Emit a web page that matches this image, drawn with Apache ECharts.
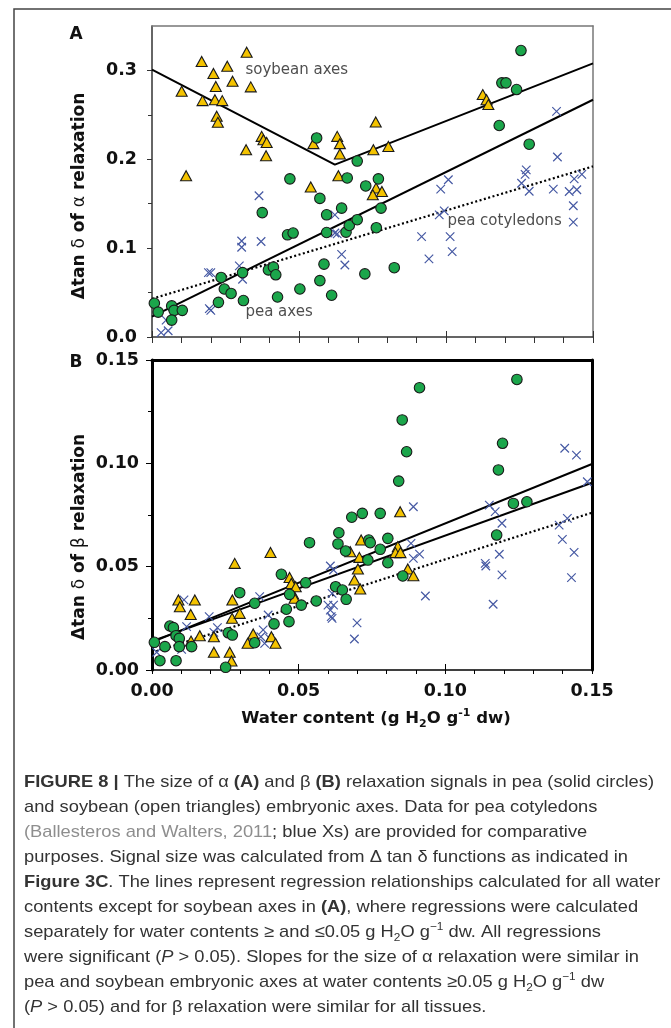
<!DOCTYPE html>
<html><head><meta charset="utf-8">
<script src="https://cdn.jsdelivr.net/npm/echarts@6/dist/echarts.min.js"></script>
<style>html,body{margin:0;padding:0;background:#fff;}#c{width:671px;height:1028px;}</style>
</head><body><div id="c"></div>
<script>
// ---------- tick values ----------
const xTicks = [0, 0.05, 0.10, 0.15];
const aYTicks = [0, 0.1, 0.2, 0.3];
const aYMinor = [0.05, 0.15, 0.25];
const bYTicks = [0, 0.05, 0.10, 0.15];

// ---------- Panel A (alpha relaxation) ----------
const aPea = [[0.0008,0.038],[0.0021,0.028],[0.0067,0.035],[0.0075,0.030],[0.0103,0.030],[0.0067,0.019],
 [0.0235,0.067],[0.0246,0.054],[0.0269,0.049],[0.0226,0.039],[0.0308,0.0725],[0.0311,0.041],
 [0.0396,0.0755],[0.0413,0.0786],[0.0421,0.070],[0.0427,0.045],[0.0503,0.054],
 [0.0571,0.0635],[0.0585,0.082],[0.0611,0.047],
 [0.0375,0.140],[0.0461,0.115],[0.048,0.117],[0.0469,0.178],[0.0571,0.156],
 [0.0594,0.1375],[0.0594,0.1176],[0.0645,0.145],[0.066,0.118],[0.0671,0.1255],[0.0698,0.132],
 [0.056,0.224],[0.0698,0.198],[0.0664,0.179],[0.0727,0.170],[0.077,0.178],
 [0.0763,0.123],[0.0779,0.145],[0.0724,0.071],[0.0824,0.078],
 [0.1255,0.3224],[0.119,0.286],[0.1204,0.286],[0.124,0.2785],[0.1181,0.238],[0.1283,0.217]];
const aSoy = [[0.0101,0.2766],[0.0169,0.310],[0.0209,0.2965],[0.0217,0.282],[0.0256,0.3047],[0.0274,0.2878],
 [0.0322,0.3205],[0.0336,0.2815],[0.0172,0.266],[0.0214,0.267],[0.0239,0.266],[0.0220,0.2484],[0.0224,0.2416],
 [0.0373,0.2258],[0.0379,0.222],[0.039,0.219],[0.032,0.2108],[0.0388,0.204],[0.0116,0.1815],[0.0549,0.2176],
 [0.063,0.2258],[0.0639,0.2176],[0.0639,0.206],[0.0634,0.1815],[0.054,0.1688],
 [0.1125,0.2728],[0.1138,0.267],[0.1144,0.2616],[0.0761,0.242],[0.0753,0.2108],[0.0804,0.2145],
 [0.0762,0.1676],[0.0751,0.160],[0.0782,0.1638]];
const aCot = [[0.0031,0.005],[0.0055,0.007],[0.0048,0.019],
 [0.0195,0.032],[0.020,0.030],[0.0192,0.0725],[0.020,0.0725],[0.0297,0.080],[0.0308,0.065],[0.0305,0.108],
 [0.0305,0.101],[0.0371,0.1075],[0.0364,0.159],
 [0.0622,0.1375],[0.0622,0.117],[0.063,0.116],[0.0645,0.093],[0.0656,0.081],
 [0.0917,0.113],[0.0942,0.088],[0.1014,0.113],[0.1021,0.096],[0.0977,0.1375],[0.0994,0.142],[0.0982,0.1665],[0.1008,0.177],
 [0.1273,0.188],[0.1269,0.183],[0.1257,0.173],[0.1283,0.164],
 [0.1365,0.1665],[0.1376,0.254],[0.1379,0.2026],[0.1462,0.183],[0.1436,0.178],[0.1419,0.1638],[0.1445,0.1657],
 [0.1433,0.1477],[0.1433,0.1293]];
const aPeaFit = [[0,0.023],[0.15,0.267]];
const aSoyFit = [[0,0.301],[0.0622,0.194],[0.15,0.308]];
const aCotFit = [[0,0.043],[0.15,0.192]];
const aNotes = [[0.0316,0.300,'soybean axes'],[0.0316,0.0285,'pea axes'],[0.1003,0.130,'pea cotyledons']];

// ---------- Panel B (beta relaxation) ----------
const bPea = [[0.0008,0.0134],[0.0027,0.0045],[0.0044,0.0113],[0.0061,0.0213],[0.0073,0.0205],[0.0082,0.0166],
 [0.0082,0.0045],[0.0093,0.0153],[0.0093,0.0113],[0.0135,0.0113],[0.0251,0.0013],[0.026,0.018],[0.0274,0.0169],
 [0.0299,0.0374],[0.035,0.0323],[0.035,0.0132],[0.0416,0.0223],[0.0441,0.0463],[0.0458,0.0294],[0.0467,0.0234],
 [0.0469,0.0366],[0.0509,0.0314],[0.0524,0.0422],[0.0537,0.0616],[0.056,0.0334],[0.0626,0.0403],[0.0649,0.0387],
 [0.0662,0.0342],[0.0637,0.0664],[0.0634,0.061],[0.066,0.0576],[0.0681,0.0739],[0.0717,0.0758],[0.0778,0.0758],
 [0.0739,0.0629],[0.0744,0.0616],[0.0804,0.0637],[0.0778,0.0584],[0.0736,0.0532],[0.0804,0.0519],[0.0855,0.0455],
 [0.1175,0.0653],[0.1232,0.0806],[0.1278,0.0814],[0.0912,0.1366],[0.1244,0.1406],[0.0853,0.121],[0.1195,0.1097],
 [0.0868,0.1056],[0.1181,0.0968],[0.0841,0.0914]];
const bSoy = [[0.009,0.0339],[0.0095,0.0306],[0.0132,0.0269],[0.0146,0.0339],[0.0133,0.014],[0.0163,0.0166],
 [0.0211,0.0161],[0.0211,0.0086],[0.0282,0.0516],[0.0274,0.0339],[0.0273,0.025],[0.0299,0.0274],[0.0265,0.0086],
 [0.0271,0.0044],[0.0345,0.0174],[0.0326,0.0129],[0.0404,0.0569],[0.0407,0.0161],[0.0421,0.0129],[0.0469,0.0448],
 [0.0475,0.0419],[0.0481,0.0368],[0.0486,0.0347],[0.049,0.0403],[0.0676,0.0572],[0.069,0.0435],[0.0846,0.0766],
 [0.0713,0.0629],[0.0707,0.0545],[0.0702,0.0489],[0.071,0.0392],[0.0838,0.0597],[0.083,0.0568],[0.0847,0.0568],
 [0.0872,0.0489],[0.0891,0.0456]];
const bCot = [[0.0016,0.0086],[0.0095,0.0132],[0.0101,0.010],[0.0109,0.0339],[0.0118,0.021],[0.0195,0.0258],
 [0.0223,0.0205],[0.0211,0.0182],[0.0367,0.0355],[0.0396,0.0266],[0.0379,0.0194],[0.0371,0.0161],[0.0384,0.0129],
 [0.0401,0.0153],[0.0608,0.0503],[0.0619,0.0484],[0.06,0.0314],[0.0608,0.029],[0.0611,0.0258],[0.0614,0.025],
 [0.0619,0.0314],[0.0614,0.0371],[0.0699,0.0228],[0.069,0.015],[0.0891,0.079],[0.0883,0.0613],[0.0891,0.054],
 [0.0912,0.0561],[0.0932,0.0358],[0.115,0.0798],[0.117,0.0766],[0.1193,0.071],[0.1184,0.056],[0.1136,0.0516],
 [0.1138,0.0503],[0.1193,0.046],[0.1163,0.0318],[0.1388,0.0701],[0.1416,0.0734],[0.1399,0.0632],[0.1439,0.0569],
 [0.143,0.0447],[0.1407,0.1073],[0.1447,0.104],[0.1484,0.0911]];
const bFitUpper = [[0,0.0135],[0.15,0.0997]];
const bFitLower = [[0,0.0140],[0.15,0.0906]];
const bCotFit = [[0,0.0084],[0.15,0.0761]];

// ---------- caption ----------
const captionLines = [
 '{b|FIGURE 8 |}{n| The size of α }{b|(A)}{n| and β }{b|(B)}{n| relaxation signals in pea (solid circles)}',
 '{n|and soybean (open triangles) embryonic axes. Data for pea cotyledons}',
 '{g|(Ballesteros and Walters, 2011}{n|; blue Xs) are provided for comparative}',
 '{n|purposes. Signal size was calculated from Δ tan δ functions as indicated in}',
 '{b|Figure 3C}{n|. The lines represent regression relationships calculated for all water}',
 '{n|contents except for soybean axes in }{b|(A)}{n|, where regressions were calculated}',
 '{n|separately for water contents ≥ and ≤0.05 g H}{sub|2}{n|O g}{sup|−1}{n| dw. All regressions}',
 '{n|were significant (}{i|P}{n| > 0.05). Slopes for the size of α relaxation were similar in}',
 '{n|pea and soybean embryonic axes at water contents ≥0.05 g H}{sub|2}{n|O g}{sup|−1}{n| dw}',
 '{n|(}{i|P}{n| > 0.05) and for β relaxation were similar for all tissues.}'
];

// ---------- styles ----------
const GREEN = '#1ba64b', GOLD = '#f4c300', BLUE = '#4659a3';
const FB = 'DejaVu Sans';
const CF = 'Liberation Sans';
const CAP_SIZE = 17;
const CAP_INK = '#333333';

const capRich = {
  n: {fontFamily: CF, fontSize: CAP_SIZE, fill: CAP_INK, lineHeight: 22},
  b: {fontFamily: CF, fontSize: CAP_SIZE, fontWeight: 'bold', fill: CAP_INK, lineHeight: 22},
  g: {fontFamily: CF, fontSize: CAP_SIZE, fill: '#8e8e8e', lineHeight: 22},
  i: {fontFamily: CF, fontSize: CAP_SIZE, fontStyle: 'italic', fill: CAP_INK, lineHeight: 22},
  sub: {fontFamily: CF, fontSize: 11, fill: CAP_INK, lineHeight: 12, verticalAlign: 'bottom'},
  sup: {fontFamily: CF, fontSize: 11, fill: CAP_INK, lineHeight: 12, verticalAlign: 'top'}
};

function measureLine(str) {
  const cv = document.createElement('canvas').getContext('2d');
  let w = 0; const re = /\{(\w+)\|([^}]*)\}/g; let m;
  while ((m = re.exec(str))) {
    const st = capRich[m[1]];
    cv.font = (st.fontStyle || '') + ' ' + (st.fontWeight || '') + ' ' + st.fontSize + 'px "' + CF + '"';
    w += cv.measureText(m[2]).width;
  }
  return w;
}
const capScale = 630 / measureLine(captionLines[0]);

const chart = echarts.init(document.getElementById('c'), null, {renderer: 'canvas'});

const hidden = {axisLine: {show: false}, axisTick: {show: false}, axisLabel: {show: false}, splitLine: {show: false}};
function xa(grid, extra) {
  return Object.assign({type: 'value', gridIndex: grid, min: 0, max: 0.15, interval: 0.05}, hidden, extra);
}
function ya(grid, max, extra) {
  return Object.assign({type: 'value', gridIndex: grid, min: 0, max: max}, hidden, extra);
}
const tickLabelStyle = {show: true, fontFamily: FB, fontWeight: 'bold', fontSize: 17.5, color: '#111'};

function scat(data, xi, yi, kind) {
  const s = {type: 'scatter', xAxisIndex: xi, yAxisIndex: yi, data: data, silent: true, z: 3};
  if (kind === 'pea') {
    Object.assign(s, {symbol: 'circle', symbolSize: 10.5, z: 5,
      itemStyle: {color: GREEN, borderColor: '#1a1a1a', borderWidth: 1.1, opacity: 1}});
  } else if (kind === 'soy') {
    Object.assign(s, {symbol: 'triangle', symbolSize: [11, 10], z: 4,
      itemStyle: {color: GOLD, borderColor: '#1a1a1a', borderWidth: 1.1, opacity: 1}});
  } else {
    Object.assign(s, {symbol: 'path://M0,0L10,10M0,10L10,0', symbolSize: 8.5, z: 3,
      itemStyle: {color: 'rgba(0,0,0,0)', borderColor: BLUE, borderWidth: 1.2, opacity: 1}});
  }
  return s;
}
function fit(data, xi, yi, dotted) {
  return {type: 'line', xAxisIndex: xi, yAxisIndex: yi, data: data, symbol: 'none', silent: true, z: 2,
    lineStyle: {color: '#000', width: dotted ? 2.2 : 2, type: dotted ? [2, 2.5] : 'solid'}};
}

const option = {
  animation: false,
  backgroundColor: '#fff',
  grid: [
    {left: 152, top: 26, width: 441, height: 311},
    {left: 152, top: 360, width: 440, height: 310}
  ],
  xAxis: [
    xa(0, {position: 'bottom', axisLine: {show: true, onZero: false, lineStyle: {color: '#333', width: 1.5}},
      axisTick: {show: true, length: 6, lineStyle: {color: '#333', width: 1}},
      minorTick: {show: true, splitNumber: 5, length: 6, lineStyle: {color: '#333', width: 1}}}),
    xa(0, {position: 'bottom', axisTick: {show: true, inside: true, length: 6, lineStyle: {color: '#333', width: 1}}}),
    xa(0, {position: 'top', axisLine: {show: true, onZero: false, lineStyle: {color: '#777', width: 1.5}}}),
    xa(1, {position: 'bottom', axisLine: {show: true, onZero: false, lineStyle: {color: '#000', width: 1.6}},
      axisTick: {show: true, length: 4, lineStyle: {color: '#000', width: 1}},
      minorTick: {show: true, splitNumber: 5, length: 4, lineStyle: {color: '#000', width: 1}},
      axisLabel: Object.assign({}, tickLabelStyle, {margin: 12, customValues: xTicks, formatter: v => v.toFixed(2)})}),
    xa(1, {position: 'bottom', axisTick: {show: true, inside: true, length: 6, lineStyle: {color: '#000', width: 1}}}),
    xa(1, {position: 'top', axisLine: {show: true, onZero: false, lineStyle: {color: '#000', width: 3}}})
  ],
  yAxis: [
    ya(0, 0.35, {position: 'left', axisLine: {show: true, onZero: false, lineStyle: {color: '#333', width: 1.5}},
      axisTick: {show: true, length: 5, customValues: aYTicks, lineStyle: {color: '#333', width: 1}},
      axisLabel: Object.assign({}, tickLabelStyle, {margin: 15, customValues: aYTicks, formatter: v => v.toFixed(1)})}),
    ya(0, 0.35, {position: 'left', axisTick: {show: true, length: 4, customValues: aYMinor, lineStyle: {color: '#333', width: 1}}}),
    ya(0, 0.35, {position: 'right', axisLine: {show: true, onZero: false, lineStyle: {color: '#777', width: 1.5}}}),
    ya(1, 0.15, {position: 'left', interval: 0.05, axisLine: {show: true, onZero: false, lineStyle: {color: '#000', width: 3}},
      axisTick: {show: true, length: 6, lineStyle: {color: '#000', width: 1}},
      minorTick: {show: true, splitNumber: 2, length: 4, lineStyle: {color: '#000', width: 1}},
      axisLabel: Object.assign({}, tickLabelStyle, {margin: 13, customValues: bYTicks, formatter: v => v.toFixed(2)})}),
    ya(1, 0.15, {position: 'right', axisLine: {show: true, onZero: false, lineStyle: {color: '#000', width: 3}}})
  ],
  series: [
    fit(aPeaFit, 0, 0, false), fit(aSoyFit, 0, 0, false), fit(aCotFit, 0, 0, true),
    scat(aCot, 0, 0, 'cot'), scat(aSoy, 0, 0, 'soy'), scat(aPea, 0, 0, 'pea'),
    {type: 'scatter', xAxisIndex: 0, yAxisIndex: 0, silent: true, symbolSize: 1, z: 6,
      itemStyle: {color: 'rgba(0,0,0,0)'},
      data: aNotes.map(n => ({value: [n[0], n[1]], name: n[2]})),
      label: {show: true, position: 'right', distance: 0, formatter: '{b}', fontFamily: FB, fontSize: 15, color: '#222'}},
    fit(bFitUpper, 3, 3, false), fit(bFitLower, 3, 3, false), fit(bCotFit, 3, 3, true),
    scat(bCot, 3, 3, 'cot'), scat(bSoy, 3, 3, 'soy'), scat(bPea, 3, 3, 'pea')
  ],
  graphic: [
    {type: 'polyline', silent: true, shape: {points: [[14, 1040], [14, 9], [680, 9]]},
      style: {stroke: '#444', lineWidth: 1.5, fill: null}},
    {type: 'text', x: 76, y: 35, silent: true,
      style: {text: 'A', fontFamily: FB, fontWeight: 'bold', fontSize: 17, fill: '#111', align: 'center', verticalAlign: 'middle'}},
    {type: 'text', x: 76, y: 363, silent: true,
      style: {text: 'B', fontFamily: FB, fontWeight: 'bold', fontSize: 17, fill: '#111', align: 'center', verticalAlign: 'middle'}},
    {type: 'text', x: 80, y: 196, rotation: Math.PI / 2, silent: true,
      style: {text: '{b|Δtan }{r|δ}{b| of }{r|α}{b| relaxation}', align: 'center', verticalAlign: 'middle',
        rich: {b: {fontFamily: FB, fontWeight: 'bold', fontSize: 17, fill: '#111'},
               r: {fontFamily: FB, fontSize: 17, fill: '#111'}}}},
    {type: 'text', x: 80, y: 537, rotation: Math.PI / 2, silent: true,
      style: {text: '{b|Δtan }{r|δ}{b| of }{r|β}{b| relaxation}', align: 'center', verticalAlign: 'middle',
        rich: {b: {fontFamily: FB, fontWeight: 'bold', fontSize: 17, fill: '#111'},
               r: {fontFamily: FB, fontSize: 17, fill: '#111'}}}},
    {type: 'text', x: 376, y: 719, silent: true,
      style: {text: '{b|Water content (g H}{sub|2}{b|O g}{sup|-1}{b| dw)}', align: 'center', verticalAlign: 'middle',
        rich: {b: {fontFamily: FB, fontWeight: 'bold', fontSize: 16.5, fill: '#111', lineHeight: 22},
               sub: {fontFamily: FB, fontWeight: 'bold', fontSize: 11, fill: '#111', lineHeight: 12, verticalAlign: 'bottom'},
               sup: {fontFamily: FB, fontWeight: 'bold', fontSize: 11, fill: '#111', lineHeight: 12, verticalAlign: 'top'}}}}
  ].concat(captionLines.map((ln, i) => ({
    type: 'text', x: 24, y: 782 + 25 * i, scaleX: capScale, originX: 0, originY: 0, silent: true,
    style: {text: ln, rich: capRich, align: 'left', verticalAlign: 'middle', fontFamily: CF, fontSize: CAP_SIZE, fill: CAP_INK}
  })))
};
chart.setOption(option);
</script>
</body></html>
